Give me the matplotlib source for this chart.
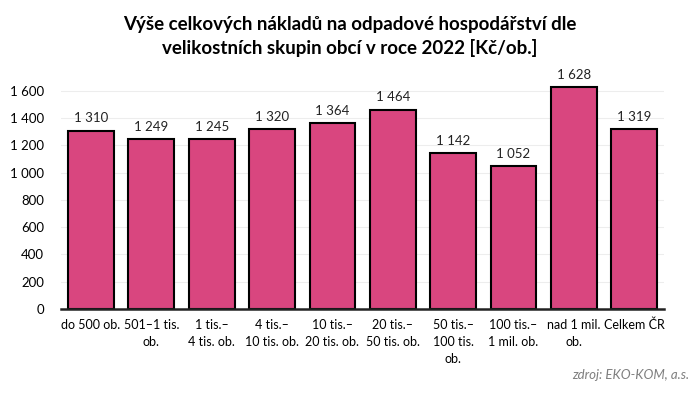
import matplotlib
matplotlib.use("Agg")
from matplotlib import pyplot as plt
from matplotlib.ticker import FuncFormatter

categories = [
    "do 500 ob.", "501–1 tis.\nob.", "1 tis.–\n4 tis. ob.", "4 tis.–\n10 tis. ob.",
    "10 tis.–\n20 tis. ob.", "20 tis.–\n50 tis. ob.", "50 tis.–\n100 tis.\nob.",
    "100 tis.–\n1 mil. ob.", "nad 1 mil.\nob.", "Celkem ČR",
]
values = [1310, 1249, 1245, 1320, 1364, 1464, 1142, 1052, 1628, 1319]
yticks = [0, 200, 400, 600, 800, 1000, 1200, 1400, 1600]

BAR_COLOR = "#D9467F"

plt.rcParams["font.family"] = ["Lato", "DejaVu Sans"]

def fmt(v):
    # thousands separated by a space, Czech style
    return f"{int(v):,}".replace(",", " ")

fig = plt.figure(figsize=(7, 3.97), dpi=100)
ax = fig.add_axes([0.087, 0.222, 0.862, 0.583])

x = range(len(values))
bars = ax.bar(x, values, width=0.76, color=BAR_COLOR, edgecolor="black", linewidth=1.5, zorder=3)
for rect, v in zip(bars, values):
    ax.text(rect.get_x() + rect.get_width() / 2, v + 45, fmt(v),
            ha="center", va="bottom", fontsize=9.5, color="#222222")

ax.set_xlim(-0.5, len(values) - 0.5)
ax.set_ylim(0, 1700)
ax.set_yticks(yticks)
ax.yaxis.set_major_formatter(FuncFormatter(lambda v, p: fmt(v)))
ax.set_xticks(list(x))
ax.set_xticklabels(categories, fontsize=9, linespacing=1.5)
ax.tick_params(axis="y", labelsize=9.5, length=0, pad=12)
ax.tick_params(axis="x", length=0, pad=7)
ax.grid(axis="y", color="#EDEDED", linewidth=0.8, zorder=0)

for s in ["top", "right", "left"]:
    ax.spines[s].set_visible(False)
ax.spines["bottom"].set_color("#222222")
ax.spines["bottom"].set_linewidth(1.8)
ax.spines["bottom"].set_zorder(4)

fig.text(0.5, 0.96, "Výše celkových nákladů na odpadové hospodářství dle\nvelikostních skupin obcí v roce 2022 [Kč/ob.]",
         ha="center", va="top", fontsize=13.5, fontweight="bold", linespacing=1.4)
fig.text(0.985, 0.055, "zdroj: EKO-KOM, a.s.", ha="right", va="center",
         fontsize=9.5, style="italic", color="#7F7F7F")

fig.savefig("out.png", dpi=100)
